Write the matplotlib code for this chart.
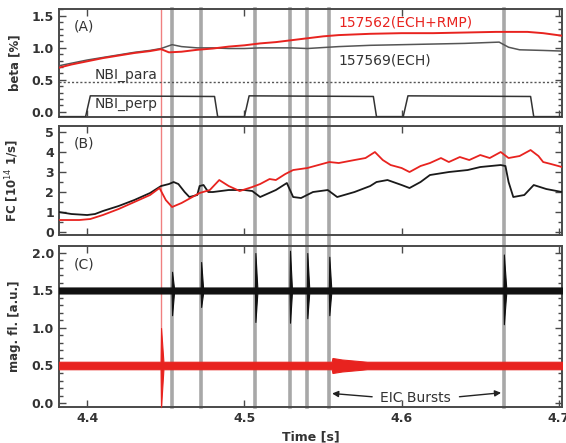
import matplotlib
matplotlib.use("Agg")
import matplotlib.pyplot as plt
import matplotlib.transforms as mtransforms
from matplotlib.lines import Line2D
from matplotlib.ticker import MultipleLocator, FormatStrFormatter

# ---- panel A: beta ----
beta_red_t = [4.382, 4.39, 4.40, 4.41, 4.42, 4.43, 4.44, 4.447, 4.452, 4.46, 4.47, 4.48,
              4.49, 4.50, 4.51, 4.52, 4.53, 4.54, 4.55, 4.56, 4.58, 4.60, 4.62, 4.64,
              4.66, 4.68, 4.69, 4.702]
beta_red = [0.69, 0.74, 0.79, 0.84, 0.88, 0.92, 0.95, 0.98, 0.93, 0.94, 0.97, 0.99,
            1.02, 1.04, 1.07, 1.09, 1.12, 1.15, 1.18, 1.20, 1.22, 1.23, 1.23, 1.24,
            1.25, 1.25, 1.23, 1.19]
beta_blk_t = [4.382, 4.39, 4.40, 4.41, 4.42, 4.43, 4.44, 4.447, 4.454, 4.46, 4.47, 4.48,
              4.49, 4.50, 4.51, 4.52, 4.53, 4.54, 4.56, 4.58, 4.60, 4.62, 4.64, 4.662,
              4.668, 4.675, 4.69, 4.702]
beta_blk = [0.72, 0.76, 0.81, 0.85, 0.89, 0.93, 0.96, 0.99, 1.05, 1.02, 1.00, 1.00,
            0.99, 0.99, 1.00, 1.00, 1.00, 0.99, 1.02, 1.04, 1.05, 1.06, 1.07, 1.09,
            1.01, 0.97, 0.96, 0.95]
nbi_para = 0.47
nbi_perp_t = [4.382, 4.399, 4.402, 4.481, 4.483, 4.500, 4.503, 4.582, 4.584, 4.601,
              4.604, 4.682, 4.684, 4.702]
nbi_perp = [-0.075, -0.075, 0.25, 0.24, -0.075, -0.075, 0.25, 0.24, -0.075, -0.075,
            0.25, 0.24, -0.075, -0.075]

# ---- panel B: FC ----
fc_blk_t = [4.382, 4.39, 4.40, 4.405, 4.41, 4.42, 4.43, 4.44, 4.447, 4.452, 4.455, 4.458,
            4.462, 4.465, 4.47, 4.4715, 4.474, 4.477, 4.48, 4.49, 4.50, 4.505, 4.51,
            4.52, 4.527, 4.531, 4.536, 4.5436, 4.553, 4.559, 4.57, 4.58, 4.584, 4.591,
            4.60, 4.605, 4.612, 4.618, 4.63, 4.642, 4.65, 4.663, 4.666, 4.668, 4.671,
            4.678, 4.684, 4.692, 4.702]
fc_blk = [1.0, 0.9, 0.85, 0.9, 1.05, 1.3, 1.6, 1.95, 2.3, 2.4, 2.5, 2.4,
          2.0, 1.75, 1.85, 2.3, 2.35, 2.0, 2.0, 2.1, 2.1, 2.05, 1.75,
          2.1, 2.45, 1.75, 1.7, 2.0, 2.1, 1.75, 2.0, 2.3, 2.5, 2.6,
          2.35, 2.2, 2.5, 2.85, 3.0, 3.1, 3.25, 3.35, 3.3, 2.5, 1.75,
          1.85, 2.35, 2.15, 2.0]
fc_red_t = [4.382, 4.395, 4.402, 4.41, 4.42, 4.43, 4.44, 4.446, 4.45, 4.454, 4.46,
            4.4715, 4.478, 4.484, 4.49, 4.497, 4.505, 4.51, 4.516, 4.52, 4.526, 4.531,
            4.54, 4.547, 4.554, 4.56, 4.57, 4.577, 4.583, 4.588, 4.593, 4.60, 4.605,
            4.612, 4.618, 4.625, 4.63, 4.637, 4.643, 4.65, 4.656, 4.663, 4.668, 4.675,
            4.682, 4.687, 4.69, 4.695, 4.702]
fc_red = [0.6, 0.6, 0.65, 0.85, 1.15, 1.5, 1.85, 2.2, 1.6, 1.25, 1.45,
          1.95, 2.1, 2.6, 2.3, 2.05, 2.25, 2.4, 2.65, 2.6, 2.9, 3.1,
          3.2, 3.35, 3.5, 3.45, 3.6, 3.7, 4.0, 3.6, 3.35, 3.2, 3.0,
          3.3, 3.45, 3.7, 3.5, 3.75, 3.6, 3.85, 3.7, 4.0, 3.7, 3.8,
          4.1, 3.8, 3.5, 3.4, 3.25]

# ---- panel C: magnetic fluctuation envelopes ----
mag_blk_t = [4.382, 4.4537, 4.454, 4.4552, 4.4722, 4.4725, 4.4737, 4.5067, 4.507, 4.5082,
             4.5287, 4.529, 4.5302, 4.5397, 4.540, 4.5412, 4.5537, 4.554, 4.5552,
             4.6647, 4.665, 4.6665, 4.702]
mag_blk_hi = [1.54, 1.54, 1.75, 1.54, 1.54, 1.88, 1.54, 1.54, 2.00, 1.54,
              1.54, 2.03, 1.54, 1.54, 2.00, 1.54, 1.54, 1.95, 1.54,
              1.54, 1.98, 1.54, 1.54]
mag_blk_lo = [1.46, 1.46, 1.17, 1.46, 1.46, 1.28, 1.46, 1.46, 1.08, 1.46,
              1.46, 1.07, 1.46, 1.46, 1.13, 1.46, 1.46, 1.17, 1.46,
              1.46, 1.05, 1.46, 1.46]
mag_red_t = [4.382, 4.4467, 4.447, 4.4485, 4.5555, 4.556, 4.562, 4.578, 4.702]
mag_red_hi = [0.55, 0.55, 1.00, 0.55, 0.55, 0.60, 0.58, 0.55, 0.55]
mag_red_lo = [0.45, 0.45, -0.05, 0.45, 0.45, 0.40, 0.42, 0.45, 0.45]

red_event = 4.447
eic_times = [4.454, 4.4725, 4.507, 4.529, 4.540, 4.554, 4.665]

RED = "#e8231f"
FRAME = "#4a4a4a"
TXT = "#333333"
GRAYLINE = "#a8a8a8"

fig = plt.figure(figsize=(5.66, 4.43), dpi=100)
axA = fig.add_axes([0.104, 0.736, 0.889, 0.244])
axB = fig.add_axes([0.104, 0.4695, 0.889, 0.246])
axC = fig.add_axes([0.104, 0.0813, 0.889, 0.3634])

for ax in (axA, axB, axC):
    ax.set_xlim(4.382, 4.702)
    for t in eic_times:
        ax.axvline(t, color=GRAYLINE, lw=2.6, zorder=1)
    ax.axvline(red_event, color="#f08080", lw=1.0, zorder=1)
    for s in ax.spines.values():
        s.set_color(FRAME)
        s.set_linewidth(1.4)
    ax.xaxis.set_major_locator(MultipleLocator(0.1))
    ax.tick_params(which="both", direction="in", top=True, right=True,
                   colors=FRAME, labelcolor=TXT, labelsize=9, width=1.0)
    ax.tick_params(which="major", length=5)
    ax.tick_params(which="minor", length=3)

# marker lines also run through the gaps between panels
trans = mtransforms.blended_transform_factory(axC.transData, fig.transFigure)
for t in eic_times:
    fig.lines.append(Line2D([t, t], [0.0813, 0.98], transform=trans,
                            color=GRAYLINE, lw=2.6, zorder=-1))
fig.lines.append(Line2D([red_event, red_event], [0.0813, 0.98], transform=trans,
                        color="#f08080", lw=1.0, zorder=-1))

# A
axA.plot(beta_blk_t, beta_blk, color="#555555", lw=1.1, zorder=3)
axA.plot(beta_red_t, beta_red, color=RED, lw=1.4, zorder=4)
axA.axhline(nbi_para, color="#555555", lw=1.0, ls=(0, (1.5, 1.5)), zorder=2)
axA.plot(nbi_perp_t, nbi_perp, color="#333333", lw=1.1, zorder=3)
axA.set_ylim(-0.08, 1.61)
axA.yaxis.set_major_locator(MultipleLocator(0.5))
axA.yaxis.set_minor_locator(MultipleLocator(0.1))
axA.yaxis.set_major_formatter(FormatStrFormatter("%.1f"))
axA.set_xticklabels([])
axA.set_ylabel("beta [%]", fontsize=8.5, color=TXT, fontweight="bold")
axA.text(0.03, 0.9, "(A)", transform=axA.transAxes, fontsize=10, color=TXT, va="top")
axA.text(4.5595, 1.39, "157562(ECH+RMP)", color=RED, fontsize=10, va="center")
axA.text(4.5595, 0.81, "157569(ECH)", color=TXT, fontsize=10, va="center")
axA.text(4.4045, 0.58, "NBI_para", color=TXT, fontsize=10, va="center")
axA.text(4.4045, 0.13, "NBI_perp", color=TXT, fontsize=10, va="center")

# B
axB.plot(fc_blk_t, fc_blk, color="#1a1a1a", lw=1.3, zorder=3)
axB.plot(fc_red_t, fc_red, color=RED, lw=1.3, zorder=4)
axB.set_ylim(-0.15, 5.3)
axB.yaxis.set_major_locator(MultipleLocator(1))
axB.yaxis.set_minor_locator(MultipleLocator(0.5))
axB.set_xticklabels([])
axB.set_ylabel("FC [10$^{14}$ 1/s]", fontsize=8.5, color=TXT, fontweight="bold")
axB.text(0.03, 0.9, "(B)", transform=axB.transAxes, fontsize=10, color=TXT, va="top")

# C
axC.fill_between(mag_blk_t, mag_blk_lo, mag_blk_hi, color="#111111", lw=0.8,
                 edgecolor="#111111", zorder=3)
axC.fill_between(mag_red_t, mag_red_lo, mag_red_hi, color=RED, lw=0.8,
                 edgecolor=RED, zorder=3)
axC.set_ylim(-0.053, 2.093)
axC.yaxis.set_major_locator(MultipleLocator(0.5))
axC.yaxis.set_minor_locator(MultipleLocator(0.1))
axC.yaxis.set_major_formatter(FormatStrFormatter("%.1f"))
axC.set_ylabel("mag. fl. [a.u.]", fontsize=8.5, color=TXT, fontweight="bold")
axC.set_xlabel("Time [s]", fontsize=9, color=TXT, fontweight="bold")
axC.text(0.03, 0.93, "(C)", transform=axC.transAxes, fontsize=10, color=TXT, va="top")
axC.text(4.609, 0.07, "EIC Bursts", fontsize=10, color=TXT, ha="center", va="center", zorder=5)
axC.annotate("", xy=(4.554, 0.13), xytext=(4.583, 0.08),
             arrowprops=dict(arrowstyle="-|>", color="#222222", lw=1.0, mutation_scale=9))
axC.annotate("", xy=(4.665, 0.14), xytext=(4.635, 0.08),
             arrowprops=dict(arrowstyle="-|>", color="#222222", lw=1.0, mutation_scale=9))

for ax in (axA, axB, axC):
    ax.yaxis.set_label_coords(-0.075, 0.5)
    for lab in ax.get_yticklabels() + ax.get_xticklabels():
        lab.set_fontweight("bold")

fig.savefig("out.png", dpi=100)
